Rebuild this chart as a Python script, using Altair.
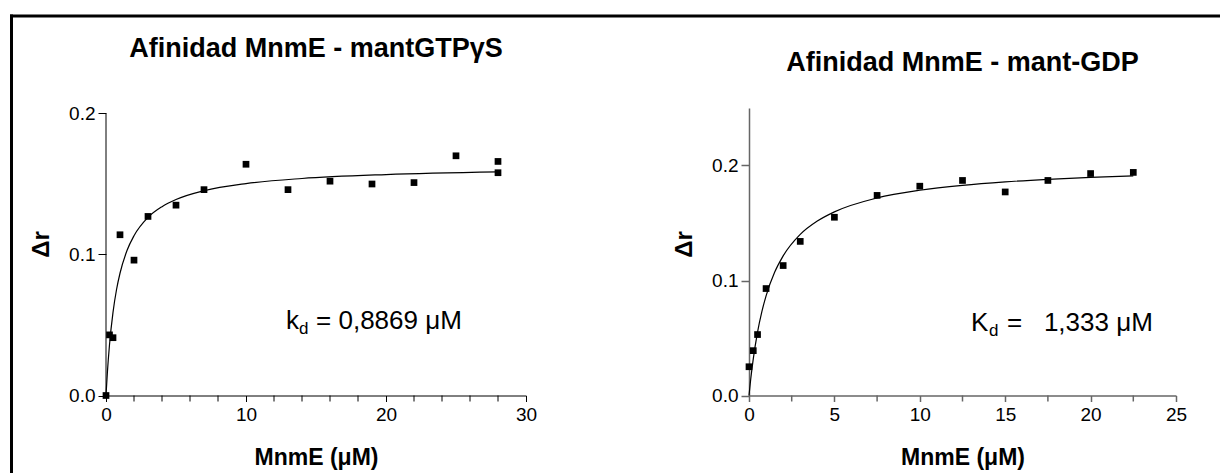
import altair as alt
import pandas as pd

# ---------------- data ----------------
left_x = [0, 0.25, 0.5, 1, 2, 3, 5, 7, 10, 13, 16, 19, 22, 25, 28, 28]
left_y = [0.0, 0.043, 0.041, 0.114, 0.096, 0.127, 0.135, 0.146, 0.164,
          0.146, 0.152, 0.150, 0.151, 0.170, 0.166, 0.158]
left_fit_x = [0, 0.1, 0.25, 0.5, 0.75, 1, 1.5, 2, 3, 4, 5, 7, 10, 14, 20, 28]
left_fit_y = [0.0, 0.0166, 0.036, 0.059, 0.075, 0.0867, 0.1028, 0.1133, 0.1263,
              0.1339, 0.139, 0.1452, 0.1503, 0.1539, 0.1567, 0.1586]

right_x = [0, 0.25, 0.5, 1, 2, 3, 5, 7.5, 10, 12.5, 15, 17.5, 20, 22.5]
right_y = [0.025, 0.039, 0.053, 0.093, 0.113, 0.134, 0.155, 0.174, 0.182,
           0.187, 0.177, 0.187, 0.193, 0.194]
right_fit_x = [0, 0.1, 0.25, 0.5, 0.75, 1, 1.5, 2, 3, 4, 5, 7.5, 10, 12.5,
               15, 17.5, 20, 22.5]
right_fit_y = [0.0, 0.0141, 0.0319, 0.0552, 0.0728, 0.0867, 0.1071, 0.1214,
               0.1401, 0.1517, 0.1597, 0.1718, 0.1785, 0.1828, 0.1858, 0.188,
               0.1897, 0.191]

left_title = "Afinidad MnmE - mantGTPγS"
right_title = "Afinidad MnmE - mant-GDP"
x_title = "MnmE (μM)"
y_title = "Δr"

left_xlabels = [0, 10, 20, 30]
left_minor = [2, 4, 6, 8, 12, 14, 16, 18, 22, 24, 26, 28]
right_xlabels = [0, 5, 10, 15, 20, 25]
right_minor = [2.5, 7.5, 12.5, 17.5, 22.5]
y_ticks = [0, 0.1, 0.2]

# annotation anchor (data coords) and text pieces
left_ann_pos = [12.86, 0.0475]
left_ann_text = ["k", "d", "= 0,8869 μM"]
right_ann_pos = [13.0, 0.0565]
right_ann_text = ["K", "d", "=\u00a0\u00a0\u00a01,333 μM"]

FONT = "Liberation Sans"


def panel(px, py, fx, fy, xdom, xlabels, minor, ydom, width, height, title, title_y,
          ann_pos, ann_text, ann_dx, axis_color, axis_w, draw_frame, yline_top):
    pts = pd.DataFrame({"x": px, "y": py})
    fit = pd.DataFrame({"x": fx, "y": fy})
    xscale = alt.Scale(domain=xdom, nice=False, zero=True)
    yscale = alt.Scale(domain=ydom, nice=False, zero=True)
    xaxis = alt.Axis(values=xlabels, format="~g",
                     labelOverlap=False, labelFlush=False,
                     title=x_title, tickSize=6, labelPadding=4,
                     labelFont=FONT, labelFontSize=19, labelColor="black",
                     titleFont=FONT, titleFontSize=23, titleFontWeight="bold",
                     titleColor="black",
                     domainColor=axis_color, tickColor=axis_color,
                     domainWidth=axis_w, tickWidth=axis_w,
                     titleY=69, titleBaseline="alphabetic")
    yaxis = alt.Axis(values=y_ticks, format=".1f", title=y_title, tickSize=8,
                     labelPadding=3, domain=(yline_top is None),
                     labelOverlap=False, labelFlush=False,
                     labelFont=FONT, labelFontSize=19, labelColor="black",
                     titleFont=FONT, titleFontSize=24, titleFontWeight="bold",
                     titleColor="black",
                     domainColor=axis_color, tickColor=axis_color,
                     domainWidth=axis_w, tickWidth=axis_w,
                     titleX=-58, titleY=136, titleBaseline="alphabetic",
                     titleAlign="center", titleAngle=270)
    line = alt.Chart(fit).mark_line(color="black", strokeWidth=1.2,
                                    interpolate="monotone").encode(
        x=alt.X("x:Q", scale=xscale, axis=xaxis),
        y=alt.Y("y:Q", scale=yscale, axis=yaxis))
    dots = alt.Chart(pts).mark_point(shape="square", filled=True, size=45,
                                     color="black", opacity=1).encode(
        x="x:Q", y="y:Q")
    mt = alt.Chart(pd.DataFrame({"x": minor})).mark_rule(
        color=axis_color, strokeWidth=axis_w).encode(
        x="x:Q", y=alt.value(height), y2=alt.value(height + 6))
    adf = pd.DataFrame({"x": [ann_pos[0]], "y": [ann_pos[1]]})
    t1 = alt.Chart(adf).mark_text(text=ann_text[0], align="left",
                                  baseline="alphabetic", font=FONT,
                                  fontSize=26, color="black").encode(x="x:Q", y="y:Q")
    t2 = alt.Chart(adf).mark_text(text=ann_text[1], align="left",
                                  baseline="alphabetic", font=FONT,
                                  fontSize=17, dx=ann_dx[0], dy=5,
                                  color="black").encode(x="x:Q", y="y:Q")
    t3 = alt.Chart(adf).mark_text(text=ann_text[2], align="left",
                                  baseline="alphabetic", font=FONT,
                                  fontSize=26, dx=ann_dx[1],
                                  color="black").encode(x="x:Q", y="y:Q")
    one = pd.DataFrame({"a": [0]})
    ttl = alt.Chart(one).mark_text(text=title, align="center",
                                   baseline="alphabetic", font=FONT,
                                   fontSize=27, fontWeight="bold",
                                   color="black").encode(
        x=alt.value(width / 2), y=alt.value(title_y))
    layers = [line, dots, mt, t1, t2, t3, ttl]
    if yline_top is not None:
        yl = alt.Chart(one).mark_rule(
            color=axis_color, strokeWidth=axis_w).encode(
            x=alt.datum(0), y=alt.datum(0), y2=alt.datum(yline_top))
        layers.append(yl)
    if draw_frame:
        top = alt.Chart(one).mark_rule(color="black", strokeWidth=3).encode(
            x=alt.value(-96), x2=alt.value(1114), y=alt.value(-92))
        left = alt.Chart(one).mark_rule(color="black", strokeWidth=3).encode(
            x=alt.value(-94.5), y=alt.value(-93.5), y2=alt.value(365))
        layers += [top, left]
    return alt.layer(*layers).properties(width=width, height=height)


left_chart = panel(left_x, left_y, left_fit_x, left_fit_y, [0, 30], left_xlabels,
                   left_minor, [0, 0.2039], 420, 287.5, left_title, -51.5,
                   left_ann_pos, left_ann_text, [13, 30], "#000000", 1, True, 0.2)
right_chart = panel(right_x, right_y, right_fit_x, right_fit_y, [0, 25], right_xlabels,
                    right_minor, [0, 0.25], 427, 287.5, right_title, -37.5,
                    right_ann_pos, right_ann_text, [18, 36], "#666666", 1.5, False, None)

chart = alt.hconcat(left_chart, right_chart, spacing=223, bounds="flush").properties(
    padding={"left": 8, "top": 13, "right": 0, "bottom": 0}
).configure_view(stroke=None).configure_axis(grid=False)

chart.save("out.html", embed_options={"renderer": "svg", "actions": False})
